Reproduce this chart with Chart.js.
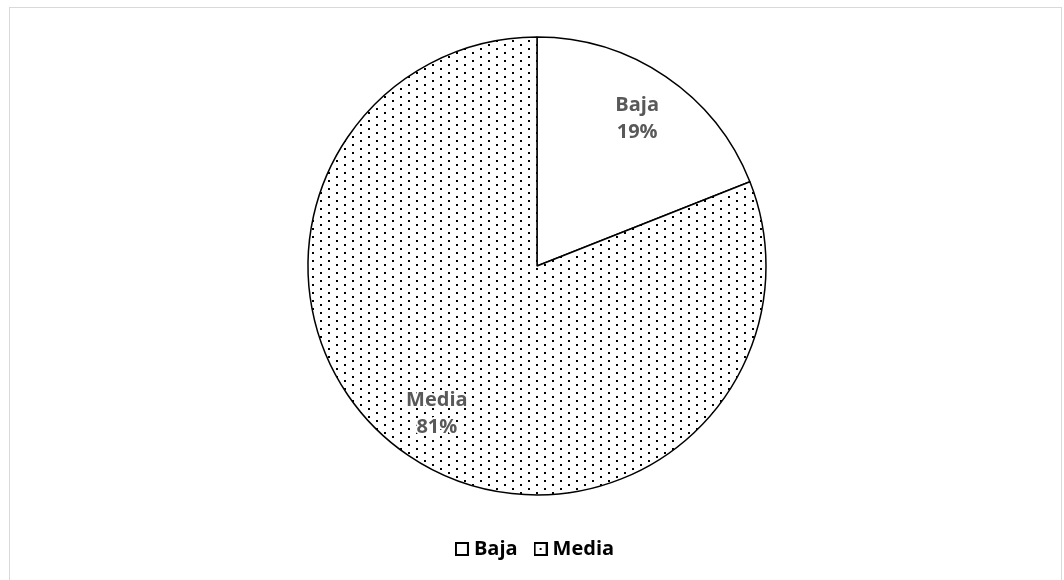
<!DOCTYPE html>
<html>
<head>
<meta charset="utf-8">
<script src="https://cdn.jsdelivr.net/npm/chart.js@4/dist/chart.umd.min.js"></script>
<style>
  html, body { margin: 0; padding: 0; background: #ffffff; }
  #frame {
    position: absolute; left: 9px; top: 7px;
    width: 1053px; height: 590px;
    border: 1px solid #d9d9d9; box-sizing: border-box;
  }
  #wrap { position: absolute; left: 0; top: 0; width: 1064px; height: 580px; }
</style>
</head>
<body>
<div id="frame"></div>
<div id="wrap"><canvas id="pieChart" width="1064" height="580"></canvas></div>
<script>
// Chart data
const categories = ['Baja', 'Media'];
const shares = [19, 81];
const percentLabels = ['19%', '81%'];

const FONT = '"Open Sans", "Liberation Sans", sans-serif';

// Dotted fill used for the "Media" slice
function makeDots() {
  const tile = document.createElement('canvas');
  tile.width = 16;
  tile.height = 8;
  const c = tile.getContext('2d');
  c.fillStyle = '#ffffff';
  c.fillRect(0, 0, 16, 8);
  c.fillStyle = '#000000';
  c.fillRect(0, 0, 2, 2);
  c.fillRect(8, 4, 2, 2);
  return c.createPattern(tile, 'repeat');
}

// Small legend boxes
function makeBox(withDot) {
  const box = document.createElement('canvas');
  box.width = 14;
  box.height = 14;
  const c = box.getContext('2d');
  c.fillStyle = '#ffffff';
  c.fillRect(0, 0, 14, 14);
  c.strokeStyle = '#000000';
  c.lineWidth = 2;
  c.strokeRect(1, 1, 12, 12);
  if (withDot) {
    c.fillStyle = '#000000';
    c.fillRect(6, 6, 2, 2);
  }
  return box;
}

const sliceFills = ['#ffffff', makeDots()];
const legendBoxes = [makeBox(false), makeBox(true)];

// Draws "Name / xx%" inside every slice
const sliceLabels = {
  id: 'sliceLabels',
  afterDatasetsDraw(chart) {
    const ctx = chart.ctx;
    const meta = chart.getDatasetMeta(0);
    ctx.save();
    ctx.font = 'bold 20px ' + FONT;
    ctx.textAlign = 'center';
    ctx.textBaseline = 'middle';
    ctx.lineJoin = 'round';
    meta.data.forEach((arc, i) => {
      const p = arc.getProps(['x', 'y', 'startAngle', 'endAngle', 'outerRadius'], true);
      const mid = (p.startAngle + p.endAngle) / 2;
      const r = p.outerRadius * 0.778;
      const cx = p.x + Math.cos(mid) * r;
      const cy = p.y + Math.sin(mid) * r;
      const lines = [categories[i], percentLabels[i]];
      lines.forEach((txt, k) => {
        const y = cy + (k === 0 ? -13 : 14);
        ctx.strokeStyle = '#ffffff';
        ctx.lineWidth = 4;
        ctx.strokeText(txt, cx, y);
        ctx.fillStyle = '#595959';
        ctx.fillText(txt, cx, y);
      });
    });
    ctx.restore();
  }
};

new Chart(document.getElementById('pieChart'), {
  type: 'pie',
  data: {
    labels: categories,
    datasets: [{
      data: shares,
      backgroundColor: sliceFills,
      borderColor: '#000000',
      borderWidth: 1.5,
      radius: 229
    }]
  },
  options: {
    responsive: false,
    animation: false,
    layout: { padding: { top: 14, bottom: 11, left: 10, right: 0 } },
    plugins: {
      tooltip: { enabled: false },
      legend: {
        position: 'bottom',
        labels: {
          usePointStyle: true,
          pointStyleWidth: 4,
          padding: 21,
          color: '#000000',
          font: { family: FONT, size: 20, weight: 'bold' },
          generateLabels(chart) {
            return categories.map((name, i) => ({
              text: name,
              pointStyle: legendBoxes[i],
              fillStyle: '#ffffff',
              strokeStyle: '#000000',
              lineWidth: 0,
              hidden: false,
              index: i
            }));
          }
        }
      }
    }
  },
  plugins: [sliceLabels]
});
</script>
</body>
</html>
